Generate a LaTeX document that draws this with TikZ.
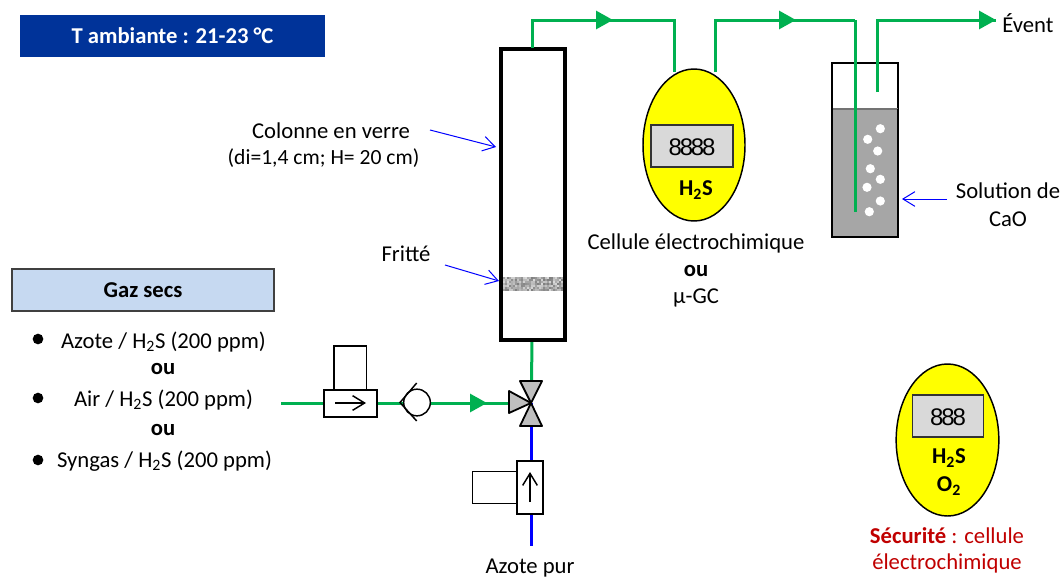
\documentclass[tikz,border=0pt]{standalone}
\usepackage{fontspec}
\setmainfont{Carlito}
\newfontfamily\lcdfont[LetterSpace=-9]{Liberation Sans}
\usetikzlibrary{shapes.geometric,arrows.meta}
\definecolor{gasgreen}{HTML}{00B050}
\definecolor{headblue}{HTML}{003399}
\definecolor{lightblue}{HTML}{C6D9F1}
\definecolor{valvegray}{HTML}{BFBFBF}
\definecolor{liquid}{HTML}{A6A6A6}
\definecolor{lcd}{HTML}{D9D9D9}
\definecolor{safety}{HTML}{C00000}
\definecolor{sensoryellow}{RGB}{255,255,0}
\definecolor{calloutblue}{RGB}{0,0,255}
\newcommand{\Hs}{H\textsubscript{2}S}
\tikzset{
  x=0.75pt,y=-0.75pt,
  txt/.style={inner sep=0pt,font=\fontsize{17pt}{20pt}\selectfont,align=center},
  btxt/.style={txt,font=\fontsize{17pt}{20pt}\selectfont\bfseries},
  gasline/.style={draw=gasgreen,line width=2.25pt},
  n2line/.style={draw=calloutblue,line width=2.25pt},
  gashead/.style={gasgreen,-{Triangle[length=12.75pt,width=13.5pt,fill=gasgreen]}},
  callout/.style={draw=calloutblue,line width=0.75pt,-{Straight Barb[length=9pt,width=11pt]}},
  sketchbox/.style={draw=black,line width=1.35pt,fill=white,inner sep=0pt,minimum size=0pt},
  sensor/.style={draw=black,line width=1.1pt,fill=sensoryellow,ellipse,inner sep=0pt},
  lcdbox/.style={draw=black!80,line width=1.1pt,fill=lcd,inner sep=0pt},
  lcdtxt/.style={inner sep=0pt,font=\fontsize{18pt}{20pt}\selectfont\lcdfont},
  valvetri/.style={draw=black,line width=1.35pt,fill=valvegray,line join=round},
  bubble/.style={circle,fill=white,inner sep=0pt,minimum size=6.9pt},
  bullet/.style={circle,fill=black,inner sep=0pt,minimum size=8pt},
}
\begin{document}
\begin{tikzpicture}
\useasboundingbox (0,0) rectangle (1063,578);
% title boxes
\node[fill=headblue,minimum width=228.75pt,minimum height=31.5pt,inner sep=0pt,text=white,font=\fontsize{17pt}{20pt}\selectfont\bfseries] (title) at (172.5,36) {T ambiante : 21-23 °C};
\node[draw=black!75,line width=1pt,fill=lightblue,minimum width=196.5pt,minimum height=31.5pt,inner sep=0pt,font=\fontsize{17pt}{20pt}\selectfont\bfseries] (gaz) at (143,290) {Gaz secs};
% gas list
\node[bullet] (b1) at (38,339) {};
\node[bullet] (b2) at (38,398) {};
\node[bullet] (b3) at (38,460) {};
\node[txt] (l1) at (163.5,342) {Azote / \Hs{} (200 ppm)};
\node[btxt] (o1) at (163,369) {ou};
\node[txt] (l2) at (163.5,400) {Air / \Hs{} (200 ppm)};
\node[btxt] (o2) at (163,430) {ou};
\node[txt] (l3) at (164.5,461) {Syngas / \Hs{} (200 ppm)};
% free points of lines
\coordinate (gasin) at (281,403);
\coordinate (valve) at (531,403);
\coordinate (colbot) at (532,341);
\coordinate (coltop) at (532,48);
\coordinate (n2end) at (531,546);
\coordinate (c1) at (532,20);
\coordinate (c2) at (674,20);
\coordinate (s1in) at (674,72);
\coordinate (s1out) at (715,72);
\coordinate (c3) at (715,20);
\coordinate (c4) at (855,20);
\coordinate (dip) at (855,212);
\coordinate (ret) at (877,92);
\coordinate (c5) at (877,20);
\coordinate (vent) at (996,20);
% lines under shapes
\draw[n2line] (valve) -- (n2end);
\draw[gasline] (gasin) -- (valve);
\draw[gashead,line width=2.25pt] (gasin) -- (487,403);
\draw[gasline] (colbot) -- (531.5,382);
% column
\node[sketchbox,draw=black,line width=3pt,minimum width=47.5pt,minimum height=218.5pt] (col) at (533,194.5) {};
\begin{scope}
\pgfmathsetseed{17}
\foreach \i in {0,...,29}{\foreach \j in {0,...,6}{
  \pgfmathsetmacro{\g}{15+random(0,35)}
  \fill[black!\g!white] (503+\i*2,277+\j*2) rectangle +(2,2);
}}
\end{scope}
\node[inner sep=0pt,minimum width=45.75pt,minimum height=10.5pt] (frit) at (533,284) {};
% top piping
\draw[gasline,line join=miter] (coltop) -- (c1) -- (c2) -- (s1in);
\draw[gashead,line width=2.25pt] (c1) -- (613,20);
\draw[gasline,line join=miter] (s1out) -- (c3) -- (c4);
\draw[gashead,line width=2.25pt] (c3) -- (796,20);
% sensor 1
\node[sensor,minimum width=76.5pt,minimum height=114pt] (s1) at (694,145) {};
\node[lcdbox,minimum width=61.5pt,minimum height=31.5pt] (lcd1) at (692,146) {};
\node[lcdtxt] (v1) at (692,147) {8888};
\node[btxt] (sn1) at (696,190) {\Hs};
\node[txt] (t1) at (696,243) {Cellule électrochimique};
\node[btxt] (t2) at (696,271) {ou};
\node[txt] (t3) at (696,298) {µ-GC};
% beaker
\node[sketchbox,minimum width=49.5pt,minimum height=130.5pt] (beaker) at (865,150) {};
\fill[liquid] (833,109) rectangle (897.5,236.5);
\draw[black!55,line width=1.1pt] (832.5,109) -- (897.5,109);
\draw[black,line width=1.35pt] (832,109) -- (832,237) -- (898,237) -- (898,109);
\draw[gasline,line join=miter] (c4) -- (dip);
\draw[gasline,line join=miter] (ret) -- (c5) -- (vent);
\draw[gashead,line width=2.25pt] (c5) -- (vent);
\node[bubble] at (880.3,128.7) {};
\node[bubble] at (867.7,139.3) {};
\node[bubble] at (877.7,151) {};
\node[bubble] at (870.3,168.7) {};
\node[bubble] at (880.3,179.3) {};
\node[bubble] at (867,187.3) {};
\node[bubble] at (880.3,201) {};
\node[bubble] at (869.3,211.7) {};
\node[txt,anchor=west] (event) at (1002,23) {Évent};
\node[txt] (sol1) at (1008,191) {Solution de};
\node[txt] (sol2) at (1008,219) {CaO};
% callouts
\node[txt] (col1) at (331,131) {Colonne en verre};
\node[txt,font=\fontsize{16.2pt}{20pt}\selectfont] (col2) at (323.5,158) {(di=1,4 cm; H= 20 cm)};
\node[txt] (fr) at (406,254) {Fritté};
\coordinate (ca1) at (430,130);
\coordinate (ca2) at (496,147);
\coordinate (fa1) at (445,265);
\coordinate (fa2) at (499,281);
\coordinate (sa1) at (947,199);
\coordinate (sa2) at (902,199);
\draw[callout] (ca1) -- (ca2);
\draw[callout] (fa1) -- (fa2);
\draw[callout] (sa1) -- (sa2);
% regulator 1
\node[sketchbox,minimum width=24.4pt,minimum height=33pt] (r1top) at (350.2,368) {};
\node[sketchbox,minimum width=39.9pt,minimum height=20pt] (r1) at (350.3,403.3) {};
\coordinate (r1a) at (335,403);
\coordinate (r1b) at (366,403);
\draw[black,line width=1.1pt,-{Straight Barb[length=9pt,width=11pt]}] (r1a) -- (r1b);
% check valve
\node[draw=black,line width=1.1pt,fill=white,ellipse,minimum width=20pt,minimum height=20pt,inner sep=0pt] (chk) at (417,402.5) {};
\coordinate (cvt) at (416.7,383);
\coordinate (cva) at (400,402.5);
\coordinate (cvb) at (416.7,421);
\draw[black,line width=1.1pt] (cvt) -- (cva) -- (cvb);
% valve
\draw[valvetri] (520,381) -- (542,381) -- (531,403) -- cycle;
\draw[valvetri] (520,426) -- (542,426) -- (531,403) -- cycle;
\draw[valvetri] (509,391) -- (509,413) -- (531,403) -- cycle;
% regulator 2
\node[sketchbox,minimum width=33pt,minimum height=24pt] (r2side) at (494.5,487.5) {};
\node[sketchbox,minimum width=20pt,minimum height=40pt] (r2) at (530,487.5) {};
\coordinate (r2a) at (530,502);
\coordinate (r2b) at (530,472);
\draw[black,line width=1.1pt,-{Straight Barb[length=9pt,width=11pt]}] (r2a) -- (r2b);
\node[txt] (azote) at (530,568) {Azote pur};
% sensor 2
\node[sensor,minimum width=77pt,minimum height=114pt] (s2) at (947.5,440) {};
\node[lcdbox,minimum width=53pt,minimum height=31.5pt] (lcd2) at (948,416) {};
\node[lcdtxt] (v2) at (948,417) {888};
\node[btxt] (sn2a) at (949,458) {\Hs};
\node[btxt] (sn2b) at (949,486) {O\textsubscript{2}};
\node[txt,text=safety] (sec1) at (947,536) {\textbf{Sécurité} : cellule};
\node[txt,text=safety] (sec2) at (947,563) {électrochimique};
\end{tikzpicture}
\end{document}
